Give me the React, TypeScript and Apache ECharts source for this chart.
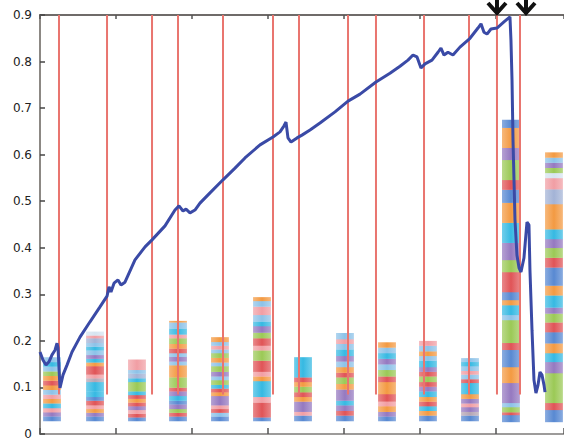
import React, { useEffect, useRef } from "react";
import * as echarts from "echarts";

// ---- data (x in units of the axis tick spacing) ----
const xMax = 6.895;
const yMin = 0;
const yMax = 0.9;
const yInterval = 0.1;

const lineData: [number, number][] = [
  [0, 0.176], [0.039, 0.159], [0.079, 0.148], [0.118, 0.155], [0.158, 0.17], [0.197, 0.18],
  [0.224, 0.195], [0.237, 0.185], [0.263, 0.099], [0.303, 0.127], [0.355, 0.148], [0.421, 0.176],
  [0.526, 0.208], [0.658, 0.241], [0.789, 0.273], [0.882, 0.296], [0.908, 0.316], [0.934, 0.305],
  [0.974, 0.324], [1.026, 0.331], [1.066, 0.32], [1.118, 0.326], [1.25, 0.374], [1.382, 0.402],
  [1.474, 0.417], [1.645, 0.447], [1.776, 0.481], [1.829, 0.49], [1.882, 0.479], [1.921, 0.483],
  [1.974, 0.475], [2.039, 0.481], [2.105, 0.496], [2.237, 0.518], [2.408, 0.546], [2.566, 0.571],
  [2.697, 0.593], [2.895, 0.621], [3.066, 0.638], [3.158, 0.649], [3.211, 0.662], [3.237, 0.67],
  [3.263, 0.636], [3.303, 0.627], [3.382, 0.636], [3.447, 0.642], [3.553, 0.653], [3.684, 0.668],
  [3.882, 0.692], [4.053, 0.715], [4.211, 0.73], [4.421, 0.756], [4.605, 0.775], [4.737, 0.79],
  [4.842, 0.803], [4.908, 0.814], [4.961, 0.81], [5.013, 0.786], [5.066, 0.795], [5.158, 0.803],
  [5.237, 0.82], [5.276, 0.829], [5.316, 0.814], [5.368, 0.82], [5.434, 0.814], [5.526, 0.831],
  [5.658, 0.85], [5.763, 0.872], [5.803, 0.881], [5.842, 0.863], [5.882, 0.859], [5.934, 0.87],
  [6.013, 0.872], [6.105, 0.885], [6.184, 0.896], [6.197, 0.846], [6.211, 0.76], [6.224, 0.631],
  [6.25, 0.46], [6.276, 0.384], [6.303, 0.357], [6.329, 0.348], [6.368, 0.378], [6.408, 0.455],
  [6.434, 0.449], [6.447, 0.352], [6.474, 0.223], [6.5, 0.116], [6.526, 0.088], [6.553, 0.105],
  [6.579, 0.133], [6.605, 0.127], [6.632, 0.105], [6.645, 0.09],
];

const redLineX = [0.25, 0.882, 1.474, 1.816, 2.408, 3.066, 3.408, 4.053, 4.421, 5.053, 5.645, 6.013, 6.316];
const redLineTop = 0.9;
const redLineBottom = 0.085;

const arrowX = [6.013, 6.395];

const barX = [0.158, 0.724, 1.276, 1.816, 2.368, 2.921, 3.461, 4.013, 4.566, 5.105, 5.658, 6.197, 6.763];
const barBase = [0.028, 0.028, 0.028, 0.028, 0.028, 0.028, 0.028, 0.028, 0.028, 0.028, 0.028, 0.026, 0.026];
const barWidth = 0.235;

const palette: Record<string, string> = {
  b: "#5889d2", lb: "#8cc2e8", c: "#36b9e2", o: "#f39a42", g: "#9bc956", r: "#e05457",
  p: "#9579c0", pk: "#f19ea4", gb: "#a3b3d6", gy: "#b5a5b4", lt: "#d6e4f0",
};

// segment colours, bottom to top
const barColors: string[][] = [
  ["b", "p", "pk", "c", "o", "pk", "lb", "o", "r", "o", "g", "lb", "c", "lb"],
  ["b", "p", "o", "pk", "r", "b", "c", "c", "gy", "pk", "r", "r", "o", "c", "p", "lb", "c", "lb", "gb", "pk", "lt"],
  ["b", "r", "pk", "p", "r", "o", "r", "c", "g", "c", "gb", "lb", "pk"],
  ["b", "r", "g", "p", "b", "c", "p", "r", "g", "o", "lb", "p", "lb", "r", "o", "g", "pk", "c", "lb", "o"],
  ["b", "lb", "r", "pk", "p", "o", "r", "c", "g", "lb", "p", "g", "lb", "o", "g", "lb", "pk", "lb", "o"],
  ["b", "r", "pk", "c", "o", "pk", "r", "g", "pk", "r", "g", "p", "c", "lb", "pk", "lb", "o"],
  ["b", "pk", "p", "o", "r", "g", "o", "r", "c"],
  ["b", "r", "p", "c", "p", "o", "g", "r", "o", "lb", "p", "c", "lb", "pk", "lb"],
  ["b", "p", "o", "pk", "r", "o", "r", "g", "lb", "p", "c", "lb", "o"],
  ["b", "o", "c", "r", "o", "c", "p", "r", "g", "r", "p", "c", "lb", "o", "lb", "pk"],
  ["b", "gy", "p", "pk", "p", "o", "c", "r", "lb", "pk", "lb", "c", "lb"],
  ["b", "r", "g", "lb", "p", "o", "b", "r", "g", "lb", "c", "o", "b", "r", "g", "p", "c", "o", "b", "r", "g", "p", "o", "b"],
  ["b", "r", "g", "p", "c", "o", "b", "r", "g", "p", "c", "o", "b", "r", "g", "p", "c", "o", "gb", "pk", "lt", "g", "p", "lb", "o"],
];

// segment heights in thousandths of the y unit, bottom to top
const barHeights: number[][] = [
  [10, 9, 9, 10, 10, 9, 10, 10, 10, 10, 10, 10, 10, 10],
  [10, 8, 8, 8, 10, 8, 12, 20, 8, 8, 10, 8, 8, 8, 8, 10, 8, 8, 10, 6, 8],
  [8, 8, 8, 8, 8, 8, 8, 8, 20, 8, 10, 8, 22],
  [10, 8, 8, 10, 8, 10, 10, 8, 22, 26, 8, 10, 8, 10, 10, 12, 8, 13, 13, 3],
  [10, 8, 8, 8, 20, 8, 8, 8, 10, 8, 10, 12, 8, 10, 10, 8, 8, 8, 10],
  [8, 32, 12, 34, 10, 10, 24, 22, 10, 16, 12, 14, 10, 14, 18, 12, 8],
  [12, 8, 22, 10, 10, 12, 10, 10, 43],
  [12, 10, 12, 10, 24, 12, 14, 10, 12, 12, 12, 14, 12, 10, 13],
  [10, 10, 12, 10, 16, 26, 12, 14, 12, 12, 12, 12, 11],
  [12, 10, 10, 10, 10, 12, 10, 10, 12, 10, 10, 14, 10, 10, 12, 10],
  [12, 8, 10, 8, 10, 10, 24, 8, 10, 8, 10, 9, 8],
  [15, 6, 11, 9, 43, 34, 37, 15, 49, 11, 21, 11, 17, 43, 26, 37, 43, 43, 28, 21, 43, 26, 43, 17],
  [26, 15, 64, 24, 19, 21, 24, 21, 19, 13, 26, 21, 39, 21, 21, 19, 21, 54, 32, 24, 11, 11, 11, 11, 11],
];

function mixWhite(hex: string, t: number): string {
  const n = parseInt(hex.slice(1), 16);
  const r = (n >> 16) & 255, g = (n >> 8) & 255, b = n & 255;
  const m = (v: number) => Math.round(v + (255 - v) * t);
  return `rgb(${m(r)},${m(g)},${m(b)})`;
}

function stripeFill(hex: string) {
  return {
    type: "linear", x: 0, y: 0, x2: 1, y2: 0,
    colorStops: [
      { offset: 0, color: mixWhite(hex, 0.3) },
      { offset: 0.5, color: hex },
      { offset: 1, color: mixWhite(hex, 0.3) },
    ],
  };
}

export default function App() {
  const ref = useRef<HTMLDivElement>(null);

  useEffect(() => {
    document.body.style.margin = "0";
    document.body.style.background = "#ffffff";
    const chart = echarts.init(ref.current!, undefined, { renderer: "svg" });

    const xAxisBase = {
      type: "value" as const,
      min: 0,
      max: xMax,
      interval: 1,
      axisLabel: { show: false },
      splitLine: { show: false },
    };

    chart.setOption({
      animation: false,
      backgroundColor: "#ffffff",
      grid: { left: 40, right: 0, top: 15, bottom: 6, outerBoundsMode: "none" },
      xAxis: [
        {
          ...xAxisBase,
          position: "bottom",
          axisLine: { show: true, onZero: false, lineStyle: { color: "#7d7a78", width: 1.5 } },
          axisTick: { show: true, inside: true, length: 6, lineStyle: { color: "#555", width: 1.5 } },
        },
        {
          ...xAxisBase,
          position: "top",
          axisLine: { show: true, onZero: false, lineStyle: { color: "#6f6b69", width: 2 } },
          axisTick: { show: true, inside: true, length: 4, lineStyle: { color: "#555", width: 1.5 } },
        },
      ],
      yAxis: {
        type: "value",
        min: yMin,
        max: yMax,
        interval: yInterval,
        axisLine: { show: true, onZero: false, lineStyle: { color: "#8c8884", width: 2 } },
        axisTick: { show: true, inside: true, length: 5, lineStyle: { color: "#444", width: 1.5 } },
        axisLabel: { color: "#222", fontSize: 12, fontFamily: "DejaVu Sans", margin: 8 },
        splitLine: { show: false },
      },
      series: [
        {
          type: "custom",
          name: "bars",
          z: 1,
          data: barX.map((x, i) => [x, barBase[i], i]),
          renderItem: (params: any, api: any) => {
            const i = params.dataIndex;
            const x = barX[i];
            const left = api.coord([x - barWidth / 2, 0])[0];
            const right = api.coord([x + barWidth / 2, 0])[0];
            let y = barBase[i];
            const children: any[] = [];
            barHeights[i].forEach((h, k) => {
              const y0 = api.coord([x, y])[1];
              y += h / 1000;
              const y1 = api.coord([x, y])[1];
              children.push({
                type: "rect",
                shape: { x: left, y: y1, width: right - left, height: y0 - y1 + 0.3 },
                style: { fill: stripeFill(palette[barColors[i][k]]) as any },
              });
            });
            return { type: "group", children };
          },
        },
        {
          type: "custom",
          name: "markers",
          z: 2,
          data: redLineX.map((x) => [x, redLineBottom]),
          renderItem: (params: any, api: any) => {
            const x = api.value(0);
            const p0 = api.coord([x, redLineBottom]);
            const p1 = api.coord([x, redLineTop]);
            return {
              type: "line",
              shape: { x1: p0[0], y1: p0[1], x2: p1[0], y2: p1[1] },
              style: { stroke: "#e9756f", lineWidth: 2 },
            };
          },
        },
        {
          type: "line",
          name: "signal",
          z: 5,
          data: lineData,
          showSymbol: false,
          symbol: "none",
          lineStyle: { color: "#3a4aa6", width: 3 },
        },
        {
          type: "custom",
          name: "arrows",
          z: 6,
          clip: false,
          data: arrowX.map((x) => [x, yMax]),
          renderItem: (params: any, api: any) => {
            const p = api.coord([api.value(0), yMax]);
            const cx = p[0];
            const ty = p[1];
            return {
              type: "group",
              children: [
                {
                  type: "line",
                  shape: { x1: cx, y1: ty - 16, x2: cx, y2: ty - 1 },
                  style: { stroke: "#111", lineWidth: 4 },
                },
                {
                  type: "polyline",
                  shape: { points: [[cx - 9, ty - 12], [cx, ty - 2], [cx + 9, ty - 12]] },
                  style: { stroke: "#111", lineWidth: 4, fill: "none", lineJoin: "miter" },
                },
              ],
            };
          },
        },
      ],
    });

    return () => chart.dispose();
  }, []);

  return (
    <div
      ref={ref}
      style={{ position: "fixed", left: 0, top: 0, width: 564, height: 440, background: "#fff" }}
    />
  );
}
